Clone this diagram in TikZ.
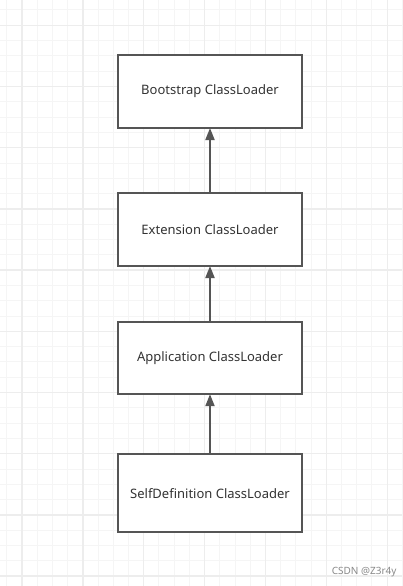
\documentclass[tikz,border=0pt]{standalone}
\usepackage{fontspec}
\setmainfont{Noto Sans}
\usetikzlibrary{arrows.meta}
\definecolor{minorgrid}{HTML}{F5F5F5}
\definecolor{majorgrid}{HTML}{EDEDED}
\definecolor{boxline}{HTML}{555555}
\definecolor{txt}{HTML}{333333}
\definecolor{wm}{HTML}{8A8A8A}
\tikzset{
  loader/.style={draw=boxline, line width=2pt, fill=white, minimum width=184pt, inner sep=0pt, text=txt, font=\fontsize{13}{15}\selectfont},
  uparrow/.style={draw=boxline, line width=2pt, -{Triangle[length=12pt,width=9pt]}, shorten >=-1pt}
}
\newcommand{\lowered}[1]{\raisebox{-2pt}{#1}}
\begin{document}
\begin{tikzpicture}[x=1pt,y=-1pt]
\useasboundingbox (0,0) rectangle (402,586);
\fill[white] (0,0) rectangle (402,586);
% minor grid
\foreach \i in {0,...,27} {
  \draw[minorgrid, line width=1pt] ({6.7+15.22*\i},0) -- ({6.7+15.22*\i},586);
}
\foreach \j in {0,...,38} {
  \draw[minorgrid, line width=1pt] (0,{10+15.3*\j}) -- (402,{10+15.3*\j});
}
% major grid
\foreach \i in {0,...,6} {
  \draw[majorgrid, line width=1.3pt] ({22+60.88*\i},0) -- ({22+60.88*\i},586);
}
\foreach \j in {0,...,9} {
  \draw[majorgrid, line width=1.3pt] (0,{25.3+61.2*\j}) -- (402,{25.3+61.2*\j});
}
\node[loader, minimum height=73pt] (boot) at (210,91.5) {\lowered{Bootstrap ClassLoader}};
\node[loader, minimum height=73pt] (ext) at (210,229.5) {\lowered{Extension ClassLoader}};
\node[loader, minimum height=72pt] (app) at (210,358.2) {\lowered{Application ClassLoader}};
\node[loader, minimum height=78pt] (self) at (210,493.3) {\lowered{SelfDefinition ClassLoader}};
\draw[uparrow] (ext.north) -- (boot.south);
\draw[uparrow] (app.north) -- (ext.south);
\draw[uparrow] (self.north) -- (app.south);
\node[text=wm, font=\fontsize{10}{11}\selectfont, anchor=east] (mark) at (400,572) {CSDN @Z3r4y};
\end{tikzpicture}
\end{document}
